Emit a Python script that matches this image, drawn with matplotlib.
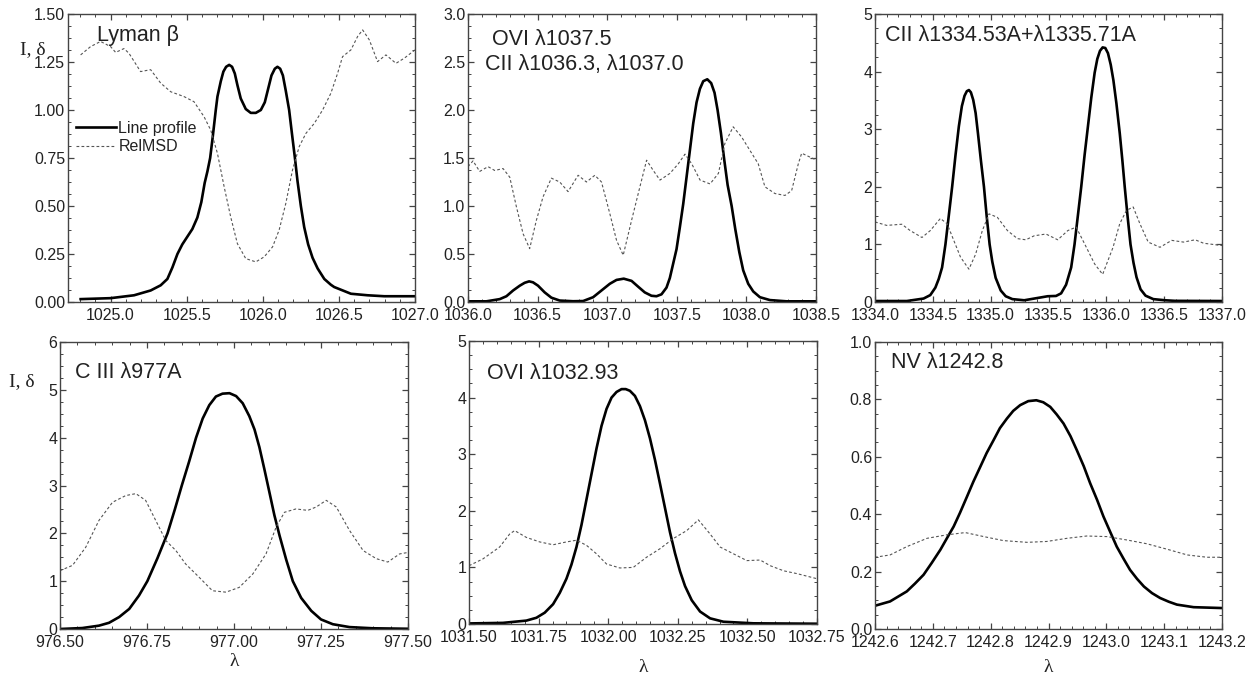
import numpy as np
import matplotlib
matplotlib.use("Agg")
import matplotlib.pyplot as plt
from matplotlib.ticker import MultipleLocator, AutoMinorLocator, FormatStrFormatter

plt.rcParams['font.family'] = ['Liberation Sans', 'DejaVu Sans']

# ---------------- data ----------------
# Panel 1: Lyman beta
lyb_x = [1024.803, 1025.0, 1025.154, 1025.263, 1025.329, 1025.373, 1025.406, 1025.439, 1025.471,
         1025.504, 1025.537, 1025.570, 1025.596, 1025.618, 1025.636, 1025.654, 1025.671, 1025.691,
         1025.702, 1025.724, 1025.741, 1025.759, 1025.779, 1025.798, 1025.816, 1025.833, 1025.855,
         1025.888, 1025.921, 1025.954, 1025.987, 1026.013, 1026.035, 1026.057, 1026.079, 1026.096,
         1026.114, 1026.132, 1026.151, 1026.173, 1026.191, 1026.211, 1026.228, 1026.250, 1026.272,
         1026.298, 1026.327, 1026.360, 1026.404, 1026.447, 1026.469, 1026.579, 1026.689, 1026.798,
         1027.0]
lyb_I = [0.015, 0.02, 0.035, 0.06, 0.087, 0.12, 0.18, 0.25, 0.30,
         0.34, 0.38, 0.44, 0.52, 0.62, 0.68, 0.75, 0.86, 1.00,
         1.07, 1.15, 1.20, 1.225, 1.235, 1.225, 1.19, 1.13, 1.06,
         1.005, 0.985, 0.985, 1.00, 1.04, 1.11, 1.18, 1.215, 1.225,
         1.215, 1.18, 1.10, 1.00, 0.88, 0.75, 0.63, 0.50, 0.39,
         0.30, 0.23, 0.175, 0.12, 0.09, 0.078, 0.043, 0.035, 0.03,
         0.03]
lyb_dx = [1024.803, 1024.868, 1024.934, 1025.0, 1025.033, 1025.088, 1025.121, 1025.197, 1025.263,
          1025.329, 1025.395, 1025.482, 1025.548, 1025.614, 1025.658, 1025.702, 1025.746, 1025.789,
          1025.833, 1025.888, 1025.954, 1026.009, 1026.064, 1026.107, 1026.151, 1026.195, 1026.239,
          1026.283, 1026.338, 1026.393, 1026.447, 1026.491, 1026.524, 1026.579, 1026.623, 1026.656,
          1026.700, 1026.754, 1026.809, 1026.875, 1026.930, 1027.0]
lyb_d = [1.287, 1.33, 1.357, 1.33, 1.30, 1.32, 1.295, 1.20, 1.21,
         1.14, 1.095, 1.07, 1.043, 0.965, 0.895, 0.774, 0.60, 0.443,
         0.304, 0.226, 0.209, 0.235, 0.287, 0.374, 0.513, 0.687, 0.809,
         0.878, 0.93, 1.0, 1.087, 1.19, 1.278, 1.313, 1.383, 1.417,
         1.365, 1.252, 1.287, 1.243, 1.27, 1.313]

# Panel 2: OVI 1037.5 / CII
ovi1_x = [1036.0, 1036.132, 1036.228, 1036.276, 1036.324, 1036.372, 1036.407, 1036.439, 1036.467,
          1036.503, 1036.551, 1036.599, 1036.659, 1036.755, 1036.827, 1036.899, 1036.959, 1037.019,
          1037.067, 1037.119, 1037.175, 1037.222, 1037.270, 1037.318, 1037.354, 1037.390, 1037.426,
          1037.450, 1037.474, 1037.498, 1037.522, 1037.546, 1037.570, 1037.594, 1037.618, 1037.642,
          1037.666, 1037.690, 1037.719, 1037.747, 1037.771, 1037.793, 1037.817, 1037.841, 1037.865,
          1037.894, 1037.920, 1037.949, 1037.977, 1038.013, 1038.049, 1038.097, 1038.169, 1038.289,
          1038.5]
ovi1_I = [0.007, 0.007, 0.03, 0.06, 0.12, 0.17, 0.20, 0.215, 0.205,
          0.17, 0.10, 0.045, 0.015, 0.008, 0.01, 0.05, 0.12, 0.19,
          0.23, 0.243, 0.22, 0.16, 0.10, 0.065, 0.06, 0.08, 0.15,
          0.25, 0.40, 0.55, 0.78, 1.02, 1.30, 1.58, 1.86, 2.08,
          2.22, 2.30, 2.32, 2.28, 2.18, 2.00, 1.76, 1.48, 1.22,
          1.00, 0.76, 0.52, 0.33, 0.19, 0.11, 0.05, 0.02, 0.007,
          0.007]
ovi1_dx = [1036.0, 1036.036, 1036.084, 1036.144, 1036.192, 1036.252, 1036.300, 1036.348, 1036.396,
           1036.443, 1036.491, 1036.539, 1036.599, 1036.659, 1036.719, 1036.791, 1036.851, 1036.911,
           1036.959, 1037.019, 1037.067, 1037.115, 1037.175, 1037.235, 1037.283, 1037.331, 1037.379,
           1037.451, 1037.511, 1037.559, 1037.607, 1037.667, 1037.739, 1037.799, 1037.845, 1037.905,
           1037.965, 1038.025, 1038.085, 1038.133, 1038.205, 1038.277, 1038.325, 1038.373, 1038.397,
           1038.5]
ovi1_d = [1.41, 1.47, 1.36, 1.41, 1.37, 1.39, 1.30, 0.99, 0.71,
          0.556, 0.85, 1.095, 1.29, 1.25, 1.15, 1.32, 1.25, 1.32,
          1.25, 0.92, 0.643, 0.487, 0.85, 1.2, 1.477, 1.37, 1.27,
          1.34, 1.44, 1.54, 1.44, 1.27, 1.23, 1.34, 1.65, 1.825,
          1.72, 1.58, 1.44, 1.2, 1.13, 1.11, 1.16, 1.44, 1.55,
          1.48]

# Panel 3: CII 1334.53 + 1335.71
cii_x = [1334.0, 1334.275, 1334.420, 1334.478, 1334.522, 1334.551, 1334.580, 1334.609, 1334.638,
         1334.667, 1334.696, 1334.725, 1334.751, 1334.774, 1334.794, 1334.812, 1334.829, 1334.849,
         1334.870, 1334.890, 1334.916, 1334.942, 1334.965, 1334.991, 1335.014, 1335.043, 1335.087,
         1335.130, 1335.188, 1335.290, 1335.406, 1335.493, 1335.565, 1335.609, 1335.652, 1335.696,
         1335.725, 1335.754, 1335.783, 1335.812, 1335.841, 1335.870, 1335.899, 1335.922, 1335.945,
         1335.968, 1335.991, 1336.014, 1336.038, 1336.061, 1336.087, 1336.116, 1336.139, 1336.159,
         1336.183, 1336.209, 1336.235, 1336.261, 1336.296, 1336.339, 1336.406, 1336.507, 1336.594,
         1337.0]
cii_I = [0.017, 0.017, 0.06, 0.12, 0.25, 0.40, 0.60, 1.00, 1.50,
         2.00, 2.55, 3.05, 3.40, 3.58, 3.66, 3.68, 3.64, 3.51,
         3.28, 2.93, 2.45, 2.00, 1.50, 1.00, 0.70, 0.42, 0.20,
         0.10, 0.05, 0.03, 0.07, 0.10, 0.105, 0.15, 0.30, 0.60,
         1.00, 1.50, 2.00, 2.55, 3.05, 3.55, 3.98, 4.22, 4.36,
         4.42, 4.41, 4.32, 4.12, 3.85, 3.45, 2.93, 2.45, 2.00,
         1.50, 1.00, 0.68, 0.43, 0.22, 0.11, 0.05, 0.03, 0.02,
         0.017]
cii_dx = [1334.0, 1334.101, 1334.232, 1334.304, 1334.406, 1334.478, 1334.565, 1334.623, 1334.681,
          1334.739, 1334.812, 1334.870, 1334.928, 1334.986, 1335.058, 1335.145, 1335.232, 1335.304,
          1335.377, 1335.478, 1335.580, 1335.667, 1335.739, 1335.812, 1335.899, 1335.968, 1336.058,
          1336.116, 1336.174, 1336.232, 1336.290, 1336.362, 1336.464, 1336.565, 1336.667, 1336.768,
          1336.841, 1337.0]
cii_d = [1.39, 1.33, 1.35, 1.24, 1.12, 1.24, 1.45, 1.36, 1.07,
         0.78, 0.57, 0.83, 1.24, 1.53, 1.47, 1.24, 1.10, 1.08,
         1.15, 1.18, 1.08, 1.24, 1.30, 1.01, 0.66, 0.48, 0.95,
         1.36, 1.59, 1.65, 1.36, 1.04, 0.95, 1.07, 1.04, 1.08,
         1.02, 0.98]

# Panel 4: C III 977
ciii_x = [976.5, 976.564, 976.612, 976.641, 976.670, 976.699, 976.727, 976.751, 976.780, 976.809,
          976.830, 976.850, 976.871, 976.891, 976.910, 976.929, 976.948, 976.967, 976.987, 977.006,
          977.025, 977.044, 977.059, 977.073, 977.087, 977.102, 977.116, 977.131, 977.150, 977.169,
          977.193, 977.222, 977.250, 977.284, 977.332, 977.399, 977.5]
ciii_I = [0.0, 0.02, 0.07, 0.13, 0.25, 0.42, 0.70, 1.00, 1.48, 2.00,
          2.50, 3.00, 3.50, 4.00, 4.40, 4.68, 4.86, 4.92, 4.93, 4.87,
          4.72, 4.45, 4.17, 3.80, 3.35, 2.85, 2.38, 1.95, 1.45, 1.00,
          0.65, 0.38, 0.20, 0.10, 0.04, 0.015, 0.005]
ciii_dx = [976.5, 976.536, 976.574, 976.612, 976.651, 976.689, 976.718, 976.746, 976.775, 976.804,
           976.833, 976.861, 976.900, 976.938, 976.977, 977.015, 977.054, 977.092, 977.121, 977.145,
           977.178, 977.212, 977.236, 977.265, 977.294, 977.332, 977.371, 977.409, 977.442, 977.476,
           977.5]
ciii_d = [1.22, 1.33, 1.71, 2.27, 2.65, 2.79, 2.83, 2.69, 2.27, 1.85,
          1.64, 1.36, 1.08, 0.80, 0.77, 0.87, 1.15, 1.57, 2.13, 2.44,
          2.51, 2.48, 2.55, 2.69, 2.55, 2.06, 1.64, 1.47, 1.40, 1.57,
          1.60]

# Panel 5: OVI 1032.93
ovi2_x = [1031.5, 1031.622, 1031.706, 1031.742, 1031.772, 1031.802, 1031.826, 1031.850, 1031.868,
          1031.886, 1031.904, 1031.922, 1031.940, 1031.958, 1031.976, 1031.994, 1032.012, 1032.030,
          1032.048, 1032.063, 1032.078, 1032.096, 1032.114, 1032.132, 1032.150, 1032.168, 1032.186,
          1032.204, 1032.222, 1032.240, 1032.258, 1032.276, 1032.300, 1032.330, 1032.366, 1032.414,
          1032.522, 1032.75]
ovi2_I = [0.01, 0.02, 0.06, 0.11, 0.20, 0.35, 0.55, 0.80, 1.05,
          1.36, 1.75, 2.20, 2.65, 3.10, 3.50, 3.80, 4.00, 4.10,
          4.15, 4.15, 4.12, 4.03, 3.85, 3.60, 3.28, 2.90, 2.48,
          2.05, 1.62, 1.25, 0.93, 0.67, 0.42, 0.22, 0.10, 0.04,
          0.012, 0.005]
ovi2_dx = [1031.5, 1031.550, 1031.610, 1031.646, 1031.664, 1031.706, 1031.754, 1031.802, 1031.850,
           1031.886, 1031.922, 1031.958, 1031.994, 1032.042, 1032.090, 1032.138, 1032.186, 1032.234,
           1032.282, 1032.324, 1032.366, 1032.402, 1032.450, 1032.498, 1032.546, 1032.582, 1032.630,
           1032.678, 1032.75]
ovi2_d = [1.03, 1.15, 1.36, 1.59, 1.65, 1.53, 1.45, 1.40, 1.45,
          1.48, 1.39, 1.24, 1.06, 0.99, 1.0, 1.18, 1.33, 1.51,
          1.65, 1.84, 1.59, 1.36, 1.24, 1.12, 1.13, 1.03, 0.94,
          0.89, 0.80]

# Panel 6: NV 1242.8
nv_x = [1242.6, 1242.626, 1242.655, 1242.669, 1242.684, 1242.698, 1242.713, 1242.724, 1242.736,
        1242.747, 1242.759, 1242.770, 1242.782, 1242.793, 1242.805, 1242.816, 1242.828, 1242.839,
        1242.851, 1242.865, 1242.879, 1242.891, 1242.903, 1242.914, 1242.926, 1242.938, 1242.949,
        1242.961, 1242.972, 1242.984, 1242.995, 1243.007, 1243.018, 1243.030, 1243.041, 1243.053,
        1243.065, 1243.079, 1243.093, 1243.108, 1243.122, 1243.151, 1243.2]
nv_I = [0.081, 0.096, 0.131, 0.158, 0.189, 0.23, 0.276, 0.315, 0.357,
        0.405, 0.461, 0.513, 0.565, 0.613, 0.658, 0.70, 0.733, 0.76,
        0.78, 0.794, 0.797, 0.79, 0.774, 0.748, 0.716, 0.672, 0.623,
        0.567, 0.508, 0.45, 0.392, 0.337, 0.287, 0.244, 0.206, 0.175,
        0.148, 0.125, 0.108, 0.095, 0.085, 0.076, 0.073]
nv_dx = [1242.6, 1242.626, 1242.655, 1242.690, 1242.724, 1242.756, 1242.788, 1242.822, 1242.863,
         1242.897, 1242.932, 1242.966, 1243.001, 1243.036, 1243.070, 1243.105, 1243.140, 1243.174,
         1243.2]
nv_d = [0.25, 0.258, 0.287, 0.316, 0.328, 0.336, 0.322, 0.308, 0.302,
        0.305, 0.316, 0.324, 0.322, 0.31, 0.297, 0.278, 0.258, 0.25,
        0.25]

titles = ["Lyman \u03b2", None,
          "CII \u03bb1334.53A+\u03bb1335.71A", "C III \u03bb977A", "OVI \u03bb1032.93",
          "NV \u03bb1242.8"]
title2 = ["OVI \u03bb1037.5", "CII \u03bb1036.3, \u03bb1037.0"]

# ---------------- layout ----------------
W, H = 1260, 678
fig = plt.figure(figsize=(W / 100, H / 100), dpi=100)

def make_ax(l, t, r, b):
    return fig.add_axes([l / W, 1 - b / H, (r - l) / W, (b - t) / H])

frame_c = '#444444'
text_c = '#222222'
TICK_FS = 11.5
TITLE_FS = 15.5

panels = [
    dict(box=(68, 14, 415, 302), xs=(lyb_x, lyb_I), ds=(lyb_dx, lyb_d),
         xlim=(1024.72, 1027.0), ylim=(0, 1.5), xmaj=0.5, ymaj=0.25,
         xfmt='%.1f', yfmt='%.2f', title_pos=(0.084, 0.927)),
    dict(box=(468, 14, 816, 302), xs=(ovi1_x, ovi1_I), ds=(ovi1_dx, ovi1_d),
         xlim=(1036.0, 1038.5), ylim=(0, 3.0), xmaj=0.5, ymaj=0.5,
         xfmt='%.1f', yfmt='%.1f', title_pos=None),
    dict(box=(875, 14, 1222, 302), xs=(cii_x, cii_I), ds=(cii_dx, cii_d),
         xlim=(1334.0, 1337.0), ylim=(0, 5), xmaj=0.5, ymaj=1,
         xfmt='%.1f', yfmt='%d', title_pos=(0.029, 0.924)),
    dict(box=(60, 342, 408, 629), xs=(ciii_x, ciii_I), ds=(ciii_dx, ciii_d),
         xlim=(976.5, 977.5), ylim=(0, 6), xmaj=0.25, ymaj=1,
         xfmt='%.2f', yfmt='%d', title_pos=(0.043, 0.895)),
    dict(box=(469, 341, 817, 624), xs=(ovi2_x, ovi2_I), ds=(ovi2_dx, ovi2_d),
         xlim=(1031.5, 1032.75), ylim=(0, 5), xmaj=0.25, ymaj=1,
         xfmt='%.2f', yfmt='%d', title_pos=(0.052, 0.885)),
    dict(box=(875, 342, 1222, 629), xs=(nv_x, nv_I), ds=(nv_dx, nv_d),
         xlim=(1242.6, 1243.2), ylim=(0, 1.0), xmaj=0.1, ymaj=0.2,
         xfmt='%.1f', yfmt='%.1f', title_pos=(0.046, 0.927)),
]

axes = []
for i, p in enumerate(panels):
    ax = make_ax(*p['box'])
    axes.append(ax)
    lp, = ax.plot(p['xs'][0], p['xs'][1], color='black', lw=1.9, solid_joinstyle='round',
                  label='Line profile')
    ld, = ax.plot(p['ds'][0], p['ds'][1], color='#555555', lw=0.8, dashes=(2.5, 2),
                  label='RelMSD')
    ax.set_xlim(*p['xlim'])
    ax.set_ylim(*p['ylim'])
    ax.xaxis.set_major_locator(MultipleLocator(p['xmaj']))
    ax.yaxis.set_major_locator(MultipleLocator(p['ymaj']))
    ax.xaxis.set_minor_locator(AutoMinorLocator(5))
    ax.yaxis.set_minor_locator(AutoMinorLocator(4))
    ax.xaxis.set_major_formatter(FormatStrFormatter(p['xfmt']))
    ax.yaxis.set_major_formatter(FormatStrFormatter(p['yfmt']))
    ax.tick_params(which='both', direction='in', top=True, right=True, colors=frame_c,
                   labelcolor=text_c, labelsize=TICK_FS)
    ax.tick_params(axis='y', pad=2)
    ax.tick_params(axis='x', pad=4)
    ax.tick_params(which='major', length=4, width=0.9)
    ax.tick_params(which='minor', length=2, width=0.7)
    for s in ax.spines.values():
        s.set_color(frame_c)
        s.set_linewidth(1.0)
    if p['title_pos'] is not None:
        ax.text(p['title_pos'][0], p['title_pos'][1], titles[i], transform=ax.transAxes,
                fontsize=TITLE_FS, color=text_c, va='center', ha='left')
    if i == 0:
        ax.legend(handles=[lp, ld], loc='center left', bbox_to_anchor=(0.0, 0.571),
                  frameon=False, handlelength=2.5, handletextpad=0.15, labelspacing=0.2,
                  borderaxespad=0.1, fontsize=11.5, labelcolor=text_c)

# OVI 1037.5 two-line title
axes[1].text(0.069, 0.91, title2[0], transform=axes[1].transAxes, fontsize=TITLE_FS,
             color=text_c, va='center', ha='left')
axes[1].text(0.049, 0.823, title2[1], transform=axes[1].transAxes,
             fontsize=TITLE_FS, color=text_c, va='center', ha='left')

# y labels
fig.text(20 / W, 1 - 50 / H, "I, \u03b4", fontsize=14, color=text_c, va='center', ha='left',
         family=['Liberation Serif', 'DejaVu Serif'])
fig.text(9 / W, 1 - 382 / H, "I, \u03b4", fontsize=14, color=text_c, va='center', ha='left',
         family=['Liberation Serif', 'DejaVu Serif'])
# x labels
for cx, cy in ((234, 661), (643, 668), (1048, 668)):
    fig.text(cx / W, 1 - cy / H, "\u03bb", fontsize=14, color=text_c, va='center', ha='center',
             family=['Liberation Serif', 'DejaVu Serif'])

fig.savefig("out.png", dpi=100, facecolor='white')
